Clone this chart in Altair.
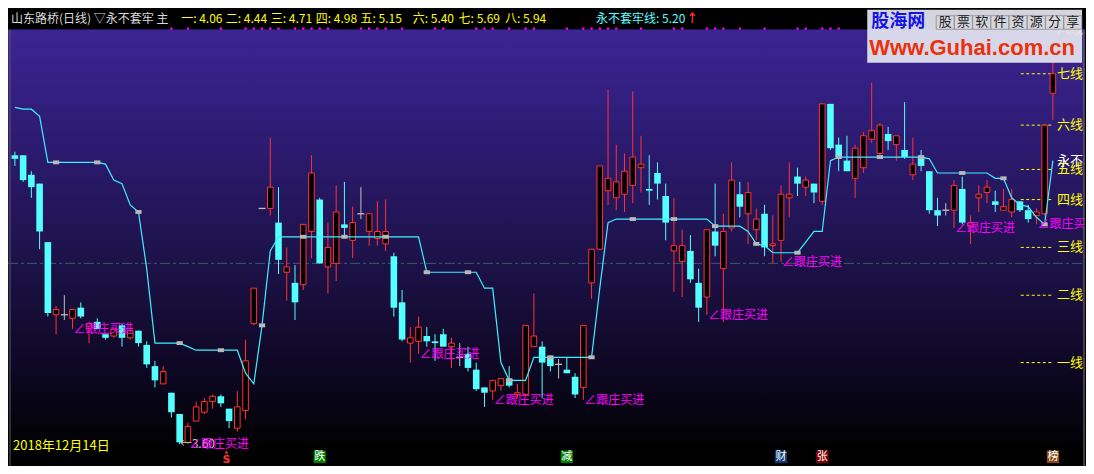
import altair as alt
import pandas as pd

# ---------------- data ----------------
opens = [5.23, 5.23, 5.12, 5.07, 4.74, 4.33, 4.33, 4.31, 4.37, 4.25,
         4.29, 4.22, 4.21, 4.27, 4.20, 4.24, 4.16, 4.04, 3.94, 3.89,
         3.77, 3.61, 3.73, 3.78, 3.84, 3.87, 3.80, 3.69, 3.79, 4.28,
         4.93, 4.93, 4.85, 4.57, 4.51, 4.50, 4.80, 4.98, 4.60, 4.62,
         4.84, 4.75, 4.90, 4.80, 4.76, 4.73, 4.66, 4.40, 4.17, 4.18,
         4.21, 4.18, 4.22, 4.15, 4.09, 4.11, 4.02, 3.92, 3.90, 3.93,
         3.97, 3.88, 3.88, 4.15, 4.15, 4.09, 4.05, 4.02, 3.98, 3.92,
         4.51, 4.70, 5.03, 4.99, 5.01, 5.06, 5.16, 5.04, 5.13, 5.00,
         4.69, 4.63, 4.69, 4.51, 4.43, 4.80, 4.59, 4.82, 5.01, 4.90,
         4.81, 4.90, 4.72, 4.75, 4.99, 5.11, 5.05, 5.07, 4.97, 5.52,
         5.29, 5.20, 5.10, 5.16, 5.32, 5.24, 5.35, 5.29, 5.26, 5.12,
         5.22, 5.14, 4.92, 4.92, 4.92, 5.04, 4.83, 4.99, 5.02, 4.97,
         4.92, 4.91, 4.97, 4.92, 4.89, 4.90, 5.58]
closes = [5.21, 5.09, 5.05, 4.80, 4.34, 4.36, 4.33, 4.36, 4.32, 4.28,
          4.25, 4.20, 4.25, 4.20, 4.24, 4.17, 4.05, 3.96, 4.01, 3.78,
          3.61, 3.70, 3.81, 3.84, 3.87, 3.83, 3.73, 3.81, 4.07, 4.48,
          4.93, 5.05, 4.64, 4.60, 4.40, 4.84, 5.13, 4.62, 4.71, 4.91,
          4.82, 4.85, 4.90, 4.90, 4.80, 4.80, 4.37, 4.19, 4.20, 4.26,
          4.18, 4.17, 4.15, 4.17, 4.09, 4.03, 3.91, 3.89, 3.96, 3.97,
          3.93, 3.89, 4.27, 4.21, 4.06, 4.04, 4.05, 4.00, 3.88, 4.27,
          4.70, 5.17, 5.10, 5.08, 5.14, 5.22, 5.18, 5.03, 5.07, 4.85,
          4.72, 4.72, 4.53, 4.37, 4.81, 4.72, 4.80, 5.09, 4.94, 5.02,
          4.87, 4.71, 4.73, 5.01, 5.01, 5.07, 5.09, 5.02, 5.52, 5.27,
          5.22, 5.14, 5.27, 5.34, 5.37, 5.40, 5.31, 5.34, 5.22, 5.18,
          5.17, 4.92, 4.89, 4.92, 5.06, 4.85, 4.85, 5.01, 5.05, 4.95,
          4.94, 4.98, 4.92, 4.87, 4.91, 5.40, 5.69]
highs = [5.25, 5.23, 5.14, 5.07, 4.74, 4.38, 4.44, 4.36, 4.40, 4.29,
         4.31, 4.22, 4.25, 4.28, 4.24, 4.24, 4.18, 4.07, 4.04, 3.89,
         3.77, 3.72, 3.84, 3.86, 3.88, 3.88, 3.80, 3.90, 4.19, 4.48,
         4.93, 5.33, 5.05, 4.71, 4.61, 4.84, 5.23, 4.99, 4.85, 5.06,
         5.08, 4.94, 5.05, 4.90, 4.97, 4.98, 4.68, 4.47, 4.26, 4.32,
         4.26, 4.22, 4.25, 4.20, 4.17, 4.15, 4.06, 3.92, 3.96, 3.97,
         4.04, 3.94, 4.27, 4.45, 4.18, 4.10, 4.08, 4.09, 4.00, 4.27,
         4.70, 5.17, 5.60, 5.29, 5.24, 5.59, 5.34, 5.23, 5.19, 5.07,
         4.99, 4.81, 4.78, 4.59, 4.81, 5.07, 4.90, 5.19, 5.08, 5.08,
         4.93, 4.95, 4.89, 5.06, 5.19, 5.16, 5.11, 5.07, 5.52, 5.52,
         5.33, 5.34, 5.29, 5.36, 5.64, 5.41, 5.39, 5.34, 5.53, 5.33,
         5.26, 5.14, 4.99, 4.96, 5.09, 5.11, 4.89, 5.06, 5.09, 5.03,
         5.04, 5.04, 4.97, 4.95, 4.93, 5.40, 5.76]
lows = [5.17, 5.08, 4.99, 4.70, 4.32, 4.22, 4.30, 4.25, 4.31, 4.17,
        4.25, 4.19, 4.20, 4.15, 4.19, 4.15, 4.03, 3.92, 3.94, 3.75,
        3.60, 3.60, 3.73, 3.77, 3.80, 3.81, 3.69, 3.67, 3.74, 4.27,
        4.93, 4.89, 4.56, 4.41, 4.30, 4.47, 4.65, 4.62, 4.45, 4.52,
        4.78, 4.65, 4.87, 4.72, 4.72, 4.69, 4.32, 4.18, 4.06, 4.11,
        4.15, 4.07, 4.15, 4.03, 4.04, 4.01, 3.90, 3.81, 3.85, 3.90,
        3.92, 3.86, 3.87, 4.15, 3.86, 4.01, 3.97, 4.00, 3.86, 3.85,
        4.42, 4.70, 4.95, 4.92, 4.91, 4.96, 5.02, 4.95, 4.98, 4.75,
        4.46, 4.43, 4.51, 4.29, 4.33, 4.66, 4.29, 4.80, 4.88, 4.73,
        4.75, 4.66, 4.62, 4.63, 4.88, 5.00, 5.00, 4.96, 4.95, 5.26,
        5.14, 5.14, 4.99, 5.13, 5.30, 5.23, 5.26, 5.20, 5.21, 5.09,
        5.14, 4.90, 4.83, 4.89, 4.82, 4.84, 4.73, 4.91, 4.96, 4.91,
        4.92, 4.88, 4.91, 4.85, 4.84, 4.89, 5.43]
# 永不套牢线
guard_line = [5.50, 5.49, 5.49, 5.45, 5.19, 5.19, 5.19, 5.19, 5.19, 5.19,
              5.19, 5.18, 5.09, 5.07, 4.95, 4.91, 4.59, 4.17, 4.17, 4.17,
              4.17, 4.15, 4.13, 4.13, 4.13, 4.13, 4.13, 4.13, 4.00, 3.94,
              4.27, 4.69, 4.77, 4.77, 4.77, 4.77, 4.77, 4.77, 4.77, 4.77,
              4.77, 4.77, 4.77, 4.77, 4.77, 4.77, 4.77, 4.77, 4.77, 4.77,
              4.57, 4.57, 4.57, 4.57, 4.57, 4.57, 4.57, 4.48, 4.48, 4.06,
              3.96, 3.96, 3.96, 4.09, 4.09, 4.09, 4.09, 4.09, 4.09, 4.09,
              4.09, 4.48, 4.85, 4.87, 4.87, 4.87, 4.87, 4.87, 4.87, 4.87,
              4.87, 4.87, 4.87, 4.87, 4.87, 4.83, 4.83, 4.83, 4.83, 4.80,
              4.73, 4.72, 4.68, 4.68, 4.68, 4.68, 4.74, 4.80, 4.80, 5.20,
              5.22, 5.22, 5.22, 5.22, 5.22, 5.22, 5.22, 5.22, 5.22, 5.22,
              5.22, 5.21, 5.13, 5.13, 5.13, 5.13, 5.13, 5.13, 5.13, 5.10,
              5.10, 4.99, 4.95, 4.94, 4.88, 4.84, 5.20]
level_names = ["一", "二", "三", "四", "五", "六", "七", "八"]
level_values = [4.06, 4.44, 4.71, 4.98, 5.15, 5.40, 5.69, 5.94]
signal_idx = [7, 21, 49, 58, 69, 84, 93, 114, 124]          # ∠跟庄买进
low_mark_idx = [20]                                         # ←3.60
top_dot_idx = [19, 21, 25, 28, 29, 30, 31, 32, 34, 35, 36, 37, 38, 42, 43, 44,
               45, 47, 51, 52, 56, 57, 58, 60, 62, 63, 67, 69, 70, 71, 72, 73,
               76, 80, 81, 84, 85, 86, 88, 91, 95, 96, 98, 99, 100]
event_idx = [37, 67, 93, 98, 126]
event_chars = ["跌", "减", "财", "张", "榜"]
event_colors = ["#008200", "#008200", "#0c3a74", "#820000", "#8a4a12"]
sell_idx = [26]
mid_level = [4.62]
date_text = "2018年12月14日"
stock_title = "山东路桥(日线) ▽永不套牢 主"

# ---------------- layout / style ----------------
W, H = 1078, 458
SX, SY = W / 1094, H / 474
XDOM = [-0.837, 130.02]
YDOM = [3.4765, 6.0611]
CJK = "Noto Sans CJK SC"
RED, CYAN, GREY, MAG, YEL = "#ff3232", "#54ffff", "#c0c0c0", "#ff00ff", "#ffff00"
TOP = 21.3

n = len(opens)
idx = list(range(n))
kind = ["up" if c > o else ("down" if c < o else "flat") for o, c in zip(opens, closes)]
candles = pd.DataFrame({"i": idx, "open": opens, "close": closes,
                        "high": highs, "low": lows, "kind": kind})

xs = alt.Scale(domain=XDOM, nice=False, zero=False)
ys = alt.Scale(domain=YDOM, nice=False, zero=False)


def X(f):
    return alt.X(f, type="quantitative", scale=xs, axis=None)


def Y(f):
    return alt.Y(f, type="quantitative", scale=ys, axis=None)


one = pd.DataFrame({"k": [0]})


def prect(x1, x2, y1, y2, **kw):
    return alt.Chart(one).mark_rect(**kw).encode(
        x=alt.value(x1), x2=alt.value(x2), y=alt.value(y1), y2=alt.value(y2))


def ptext(s, x, y, **kw):
    opts = dict(align="left", baseline="middle", font=CJK, fontSize=12)
    opts.update(kw)
    return alt.Chart(one).mark_text(text=s, **opts).encode(x=alt.value(x), y=alt.value(y))


layers = []

# background gradient
grad = alt.Gradient(
    gradient="linear",
    stops=[alt.GradientStop(color="#3c2494", offset=0),
           alt.GradientStop(color="#2b1a6e", offset=0.28),
           alt.GradientStop(color="#1c1146", offset=0.55),
           alt.GradientStop(color="#0c0720", offset=0.8),
           alt.GradientStop(color="#000000", offset=0.97),
           alt.GradientStop(color="#000000", offset=1)],
    x1=0, x2=0, y1=0, y2=1)
layers.append(prect(0, W, TOP, H, fill=grad))

# mid dash-dot line
layers.append(alt.Chart(pd.DataFrame({"v": mid_level})).mark_rule(
    color="#3e5a6c", strokeDash=[10, 3, 3, 3], strokeWidth=1).encode(
    y=Y("v"), x=alt.value(0), x2=alt.value(W)))

# level dashes and labels
lv = pd.DataFrame({"name": level_names, "v": level_values})
layers.append(alt.Chart(lv).transform_calculate(
    xa=f"{n - 1} - 3.9", xb=f"{n - 1} + 0.07").mark_rule(
    color=YEL, strokeDash=[3, 2.5], strokeWidth=1).encode(
    x=X("xa"), x2=alt.X2("xb"), y=Y("v")))
layers.append(alt.Chart(lv).transform_calculate(
    lab="datum.name + '线'", xa=f"{n - 1}").mark_text(
    align="left", baseline="middle", dx=4, color=YEL, fontSize=13, font=CJK).encode(
    x=X("xa"), y=Y("v"), text="lab:N"))

# candles
base = alt.Chart(candles)
cscale = alt.Scale(domain=["up", "down", "flat"], range=[RED, CYAN, GREY])
layers.append(base.mark_rule(strokeWidth=1).encode(
    x=X("i"), y=Y("low"), y2=alt.Y2("high"),
    color=alt.Color("kind:N", scale=cscale, legend=None)))
layers.append(base.transform_filter("datum.kind == 'up'").transform_calculate(
    xa="datum.i - 0.34", xb="datum.i + 0.34").mark_rect(
    fill="#000000", stroke=RED, strokeWidth=1).encode(
    x=X("xa"), x2=alt.X2("xb"), y=Y("open"), y2=alt.Y2("close")))
layers.append(base.transform_filter("datum.kind == 'down'").transform_calculate(
    xa="datum.i - 0.40", xb="datum.i + 0.40").mark_rect(color=CYAN).encode(
    x=X("xa"), x2=alt.X2("xb"), y=Y("open"), y2=alt.Y2("close")))
layers.append(base.transform_filter("datum.kind == 'flat'").transform_calculate(
    xa="datum.i - 0.42", xb="datum.i + 0.42").mark_rule(color=GREY, strokeWidth=1.3).encode(
    x=X("xa"), x2=alt.X2("xb"), y=Y("close")))

# 永不套牢线
guard = pd.DataFrame({"i": idx, "v": guard_line})
layers.append(alt.Chart(guard).mark_line(color="#3cf0ff", strokeWidth=1.2).encode(
    x=X("i"), y=Y("v")))
layers.append(alt.Chart(guard).transform_filter("datum.i > 0 && datum.i % 5 == 0").transform_calculate(
    xa="datum.i - 0.38", xb="datum.i + 0.38", ya="datum.v - 0.011", yb="datum.v + 0.011").mark_rect(
    color="#b8b8b8").encode(x=X("xa"), x2=alt.X2("xb"), y=Y("ya"), y2=alt.Y2("yb")))

# low price marker and signals
lowm = pd.DataFrame({"i": low_mark_idx, "low": [lows[k] for k in low_mark_idx]})
layers.append(alt.Chart(lowm).transform_calculate(
    lab="'←' + format(datum.low, '.2f')").mark_text(
    align="left", baseline="middle", color="#c8c8c8", fontSize=12, font=CJK).encode(
    x=X("i"), y=Y("low"), text="lab:N"))
sig = pd.DataFrame({"i": signal_idx, "low": [lows[k] for k in signal_idx]})
layers.append(alt.Chart(sig).mark_text(
    text="∠跟庄买进", align="left", baseline="middle", dx=1, color=MAG,
    fontSize=12, font=CJK).encode(x=X("i"), y=Y("low")))

# label of guard line at right
layers.append(alt.Chart(pd.DataFrame({"i": [n - 1], "v": [guard_line[-1]]})).mark_text(
    text="永不套牢线", align="left", baseline="middle", dx=4, color="#ffffff",
    fontSize=13, font=CJK).encode(x=X("i"), y=Y("v")))

# bottom events
ev = pd.DataFrame({"i": event_idx, "ch": event_chars, "bg": event_colors})
layers.append(alt.Chart(ev).transform_calculate(
    xa="datum.i - 0.74", xb="datum.i + 0.74").mark_rect().encode(
    x=X("xa"), x2=alt.X2("xb"), y=alt.value(442.5), y2=alt.value(455),
    fill=alt.Fill("bg:N", scale=None)))
layers.append(alt.Chart(ev).mark_text(
    color="#ffffff", fontSize=11, font=CJK, baseline="middle").encode(
    x=X("i"), y=alt.value(448.8), text="ch:N"))
sell = pd.DataFrame({"i": sell_idx})
layers.append(alt.Chart(sell).mark_point(
    shape="triangle-up", filled=True, color=RED, size=14, opacity=1, xOffset=-2.6).encode(
    x=X("i"), y=alt.value(444)))
layers.append(alt.Chart(sell).mark_text(
    text="S", color=RED, fontSize=11, fontWeight="bold", dx=-2.6, font="DejaVu Sans",
    baseline="middle").encode(x=X("i"), y=alt.value(451.5)))

layers.append(ptext(date_text, 5, 437.5, color=YEL, fontSize=13))

# frame lines
layers.append(prect(1076.3, W, TOP, H, color="#000000"))
layers.append(alt.Chart(one).mark_rule(color="#5a5a5a").encode(
    x=alt.value(2), y=alt.value(TOP), y2=alt.value(H)))
layers.append(alt.Chart(one).mark_rule(color="#7a7a7a").encode(
    x=alt.value(1076), y=alt.value(TOP), y2=alt.value(H)))

# header band
layers.append(prect(0, W, 0, TOP, color="#000000"))
layers.append(alt.Chart(pd.DataFrame({"i": top_dot_idx})).mark_square(
    color=MAG, size=5, opacity=1).encode(x=X("i"), y=alt.value(20.6)))
HY = 10.6
layers.append(ptext(stock_title, 3 * SX, HY, color="#d8d8d8"))
level_x = [175.7, 221, 266.7, 312.3, 357.7, 410.7, 457.3, 504.3]
for nm, v, rx in zip(level_names, level_values, level_x):
    layers.append(ptext(f"{nm}: {v:.2f}", rx * SX, HY, color=YEL))
layers.append(ptext(f"永不套牢线: {guard_line[-1]:.2f}", 596.7 * SX, HY, color=CYAN))
layers.append(ptext("↑", 688.3 * SX, HY, color=RED, fontWeight="bold"))

# watermark logo
layers.append(prect(872 * SX, 1090 * SX, 1.7 * SY, 56.7 * SY, color="#e4e4f0", opacity=0.93))
layers.append(ptext("股海网", 876 * SX, 15 * SY, color="#1414e6", fontSize=18, fontWeight="bold"))
for k, ch in enumerate("股票软件资源分享"):
    x0 = (942 + 18.5 * k) * SX
    layers.append(prect(x0, x0 + 18.2 * SX, 8 * SY, 22 * SY, fill="#d6d6de",
                        stroke="#8a8a8a", strokeWidth=0.8))
    layers.append(ptext(ch, x0 + 9.1 * SX, 15 * SY, color="#222222", fontSize=13, align="center"))
layers.append(ptext("Www.Guhai.com.cn", 874 * SX, 41 * SY, color="#e8320c", fontSize=22,
                    fontWeight="bold", font="Liberation Sans"))

chart = alt.layer(*layers).properties(
    width=W, height=H, padding=0, background="#000000",
    autosize=alt.AutoSizeParams(type="none"),
).configure_view(strokeWidth=0)

chart.save("out.html", embed_options={"renderer": "svg", "actions": False})
